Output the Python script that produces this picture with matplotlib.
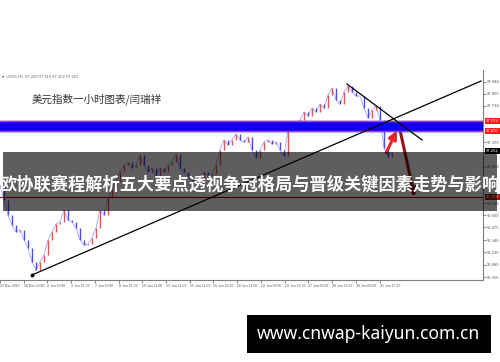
import matplotlib
matplotlib.use('Agg')
import matplotlib.pyplot as plt
import numpy as np
from matplotlib.patches import Rectangle

plt.rcParams['font.family'] = ['Noto Sans CJK SC', 'DejaVu Sans']

# USDX H1 closes, 27 Dec 2019 - 31 Jan 2020
closes = [96.912, 96.757, 96.602, 96.498, 96.426, 96.447, 96.343, 96.261, 96.116, 96.033,
          96.116, 96.188, 96.343, 96.426, 96.509, 96.529, 96.653, 96.550, 96.529, 96.467,
          96.343, 96.292, 96.302, 96.364, 96.467, 96.653, 96.602, 96.777, 96.860, 96.943,
          97.046, 97.118, 97.149, 97.087, 97.118, 97.222, 97.118, 97.046, 97.087, 97.005,
          97.087, 97.046, 97.118, 97.149, 97.232, 97.087, 97.046, 97.005, 96.943, 96.963,
          96.984, 97.046, 97.005, 97.025, 97.118, 97.273, 97.377, 97.325, 97.377, 97.439,
          97.377, 97.356, 97.408, 97.273, 97.191, 97.273, 97.356, 97.377, 97.335, 97.356,
          97.273, 97.211, 97.480, 97.521, 97.480, 97.583, 97.666, 97.625, 97.707, 97.666,
          97.749, 97.707, 97.842, 97.914, 97.790, 97.749, 97.873, 97.935, 97.873, 97.831,
          97.831, 97.707, 97.604, 97.687, 97.728, 97.583, 97.294, 97.201, 97.253]

x_labels = ["27 Dec 2019", "30 Dec 20:00", "2 Jan 10:00", "3 Jan 21:00", "7 Jan 10:00",
            "8 Jan 21:00", "10 Jan 11:00", "13 Jan 21:00", "15 Jan 11:00", "16 Jan 22:00",
            "20 Jan 11:00", "22 Jan 05:00", "23 Jan 16:00", "27 Jan 05:00", "28 Jan 16:00",
            "30 Jan 06:00", "31 Jan 17:00"]
# scale labels (those hidden behind the price boxes / banner left out)
y_ticks = [95.960, 96.085, 96.215, 96.340, 96.475, 96.600, 96.725,
           97.100, 97.355, 97.730, 97.855, 97.980]

band_top, band_bot = 97.573, 97.470
last_price = 97.262
red_level = 96.788
rising_line = ([8.0, 120.25], [95.982, 97.986])
falling_line = ([86.75, 105.5], [97.955, 97.377])

header = "USDX,H1  97.260 97.310 97.262 97.262"
title = "美元指数一小时图表/闫瑞祥"
banner = "欧协联赛程解析五大要点透视争冠格局与晋级关键因素走势与影响"
site = "www.cnwap-kaiyun.com.cn"

W, H = 500, 362
fig = plt.figure(figsize=(W / 100, H / 100), dpi=100)
ax = fig.add_axes([0, 1 - 280 / H, 483 / W, 210 / H])
ax.set_xlim(0, 120.75)
ax.set_ylim(95.93, 98.10)

# candles (open = previous close)
idx = np.arange(len(closes))
ax.plot(idx, closes, color='#9090ff', lw=0.5, zorder=2)
for k in range(1, len(closes)):
    o, c = closes[k - 1], closes[k]
    col = '#ff4a4a' if c >= o else '#4a4aff'
    ax.vlines(k, min(o, c), max(o, c), color=col, lw=1.0, zorder=3)

# resistance band
ax.axhspan(band_bot, band_top, color='#0000ff', zorder=4)
ax.axhline(band_top, color='#ff2a6a', lw=1.0, zorder=4)
ax.axhline(band_bot, color='#ff2a6a', lw=1.0, zorder=4)
ax.axhline(red_level, color='#a01010', lw=0.8, zorder=4)

# trend lines
ax.plot(*rising_line, color='black', lw=0.9, zorder=5)
ax.plot(rising_line[0][0], rising_line[1][0], 'o', color='black', ms=1.8, zorder=5)
ax.plot(*falling_line, color='black', lw=0.9, zorder=5)

# arrows
ax.annotate('', xy=(99.5, 97.50), xytext=(96.25, 97.22),
            arrowprops=dict(arrowstyle='-|>', color='#e8242a', lw=2.2, mutation_scale=12), zorder=6)
ax.annotate('', xy=(103.8, 96.76), xytext=(100.0, 97.48),
            arrowprops=dict(arrowstyle='-|>', color='#9a1414', lw=2.2, mutation_scale=12), zorder=6)

# axes styling
for s in ['top', 'left']:
    ax.spines[s].set_visible(False)
ax.spines['right'].set_color('#808080')
ax.spines['bottom'].set_color('#808080')
ax.spines['right'].set_linewidth(0.8)
ax.spines['bottom'].set_linewidth(0.8)
ax.yaxis.tick_right()
ax.set_yticks(y_ticks)
ax.set_yticklabels([f"{v:.3f}" for v in y_ticks])
ax.set_xticks(np.arange(len(x_labels)) * 5.93)
ax.set_xticklabels(x_labels, ha='left')
ax.tick_params(axis='both', labelsize=3.0, length=2, width=0.5, colors='#555555', pad=1)
ax.tick_params(axis='x', labelsize=2.6)

for val, face in [(band_top, '#ff1a1a'), (band_bot, '#ff1a1a'), (last_price, 'black'), (red_level, '#b01010')]:
    ax.annotate(f"{val:.3f}", xy=(1.0, val), xycoords=('axes fraction', 'data'),
                xytext=(2, 0), textcoords='offset points', fontsize=3.0, color='white',
                va='center', ha='left',
                bbox=dict(boxstyle='square,pad=0.25', fc=face, ec='none'), annotation_clip=False, zorder=7)

# texts on the chart
fig.text(2 / W, 1 - 76 / H, '▾', fontsize=3, color='#444444', va='center', family='DejaVu Sans')
fig.text(6 / W, 1 - 76 / H, header, fontsize=3, color='#666666', va='center')
fig.text(32 / W, 1 - 99 / H, title, fontsize=7.6, color='#333333', va='center')

# overlay banner
fig.add_artist(Rectangle((3 / W, 1 - 211 / H), 494 / W, 59 / H, transform=fig.transFigure,
                         facecolor='black', alpha=0.63, edgecolor='none', zorder=10))
fig.text(250 / W, 1 - 185 / H, banner, fontsize=12.4, color='white', weight='bold',
         ha='center', va='center', zorder=11)

# site box
fig.add_artist(Rectangle((247 / W, 1 - 353 / H), 244 / W, 38 / H, transform=fig.transFigure,
                         facecolor='black', edgecolor='none', zorder=10))
fig.text(368 / W, 1 - 334 / H, site, fontsize=12.6, color='white', weight='bold',
         ha='center', va='center', family='Noto Sans', zorder=11)

fig.savefig('out.png', dpi=100)
